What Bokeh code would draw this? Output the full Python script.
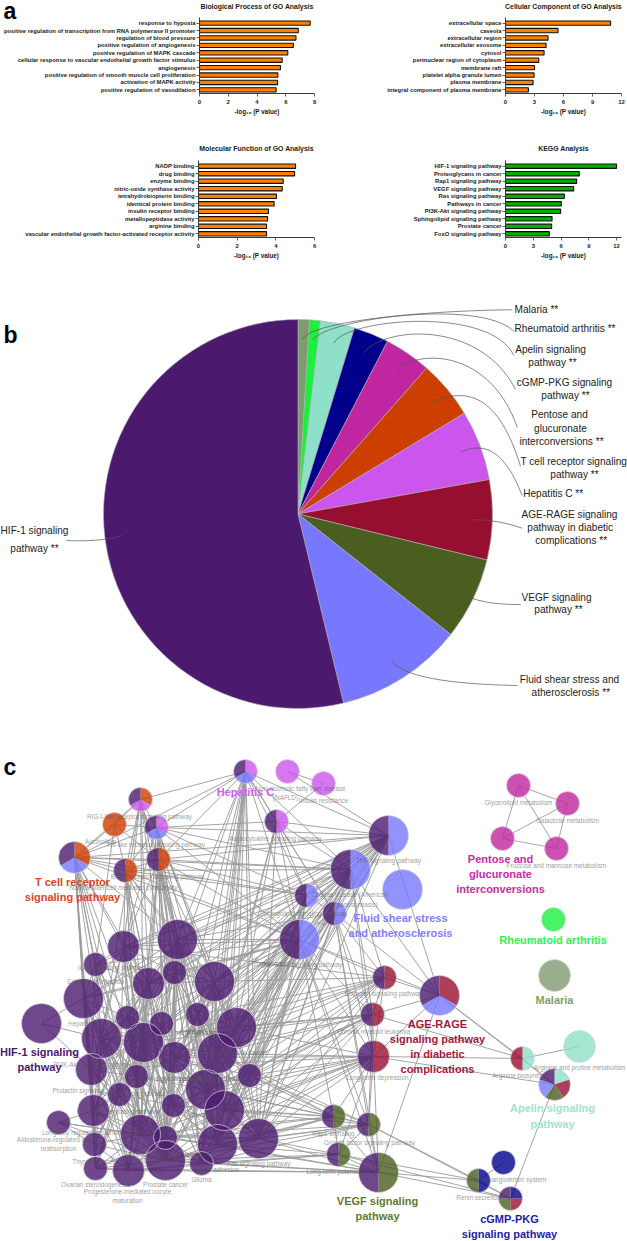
from math import pi
from bokeh.plotting import figure
from bokeh.layouts import column, row
from bokeh.models import Range1d, FixedTicker, Label, ColumnDataSource
from bokeh.core.properties import value
from bokeh.embed import file_html
from bokeh.resources import INLINE

FONT = "Liberation Sans"

# ---------- panel a data ----------
bp_terms = ["response to hypoxia", "positive regulation of transcription from RNA polymerase II promoter",
            "regulation of blood pressure", "positive regulation of angiogenesis",
            "positive regulation of MAPK cascade", "cellular response to vascular endothelial growth factor stimulus",
            "angiogenesis", "positive regulation of smooth muscle cell proliferation",
            "activation of MAPK activity", "positive regulation of vasodilation"]
bp_vals = [7.70, 6.87, 6.71, 6.53, 6.14, 5.75, 5.63, 5.45, 5.43, 5.33]
cc_terms = ["extracellular space", "caveola", "extracellular region", "extracellular exosome", "cytosol",
            "perinuclear region of cytoplasm", "membrane raft", "platelet alpha granule lumen",
            "plasma membrane", "integral component of plasma membrane"]
cc_vals = [10.87, 5.43, 4.40, 4.20, 3.99, 3.44, 3.00, 2.96, 2.85, 2.37]
mf_terms = ["NADP binding", "drug binding", "enzyme binding", "nitric-oxide synthase activity",
            "tetrahydrobiopterin binding", "identical protein binding", "insulin receptor binding",
            "metallopeptidase activity", "arginine binding",
            "vascular endothelial growth factor-activated receptor activity"]
mf_vals = [5.02, 4.97, 4.38, 4.33, 4.03, 3.91, 3.62, 3.57, 3.52, 3.52]
kegg_terms = ["HIF-1 signaling pathway", "Proteoglycans in cancer", "Rap1 signaling pathway",
              "VEGF signaling pathway", "Ras signaling pathway", "Pathways in cancer",
              "PI3K-Akt signaling pathway", "Sphingolipid signaling pathway", "Prostate cancer",
              "FoxO signaling pathway"]
kegg_vals = [12.0, 7.98, 7.69, 7.37, 6.36, 6.04, 5.96, 5.03, 4.99, 4.74]

# ---------- panel b data ----------
pie_shares = [0.94, 0.90, 2.85, 2.92, 3.89, 4.83, 5.83, 6.64, 6.83, 10.61, 53.76]
C = dict(hif="#4B1A6E", fluid="#7878FF", vegf="#4A5E20", age="#970F30", hepc="#CC55EE", tcell="#CC3F00",
         pent="#C0269F", cgmp="#00008B", apel="#8FE0C8", rheu="#1CF03F", mal="#7F9A6F")
pie_keys = ["mal", "rheu", "apel", "cgmp", "pent", "tcell", "hepc", "age", "vegf", "fluid", "hif"]
pie_lines = [("Malaria **", 514, 309, "left"), ("Rheumatoid arthritis **", 514, 328.3, "left"),
             ("Apelin signaling", 550, 349, "center"), ("pathway **", 552, 361.7, "center"),
             ("cGMP-PKG signaling", 564, 382.3, "center"), ("pathway **", 565, 395, "center"),
             ("Pentose and", 559, 414.3, "center"), ("glucuronate", 560, 428, "center"),
             ("interconversions **", 561, 441, "center"),
             ("T cell receptor signaling", 573.3, 461.3, "center"), ("pathway **", 574, 474, "center"),
             ("Hepatitis C **", 522.7, 493.3, "left"),
             ("AGE-RAGE signaling", 569, 514, "center"), ("pathway in diabetic", 569.7, 526.7, "center"),
             ("complications **", 570.7, 540, "center"),
             ("VEGF signaling", 556, 596.7, "center"), ("pathway **", 558, 609.3, "center"),
             ("Fluid shear stress and", 569, 678.7, "center"), ("atherosclerosis **", 570.3, 692, "center"),
             ("HIF-1 signaling", 34, 530, "center"), ("pathway **", 34, 548, "center")]
# leader curves: start, control 1, control 2, end
leaders = [(302, 339, 310, 320, 430, 310, 511.7, 309.3), (312.3, 339.3, 327, 318, 480, 298, 513.3, 330.7),
           (333.3, 342.7, 345, 318, 490, 305, 513.3, 355), (363.3, 352.3, 385, 325, 480, 320, 515, 389),
           (396, 369.3, 420, 348, 490, 350, 516.7, 426.7), (430.7, 401.7, 460, 390, 495, 385, 520, 465.7),
           (460, 451.7, 485, 440, 505, 452, 521.7, 495), (471, 519.3, 490, 519, 505, 522, 521.7, 527.7),
           (454.3, 590, 475, 602, 495, 604, 520, 604), (391.7, 660.7, 405, 680, 470, 684, 516.7, 685),
           (122, 535, 105, 540, 85, 541, 66, 540)]

# ---------- panel c data ----------
P = "hif"
node_x = [245, 287, 323, 140, 114, 156, 276, 74, 125, 158, 306, 299, 177, 123, 95, 174, 148, 214, 83, 41, 127, 197,
          236, 101, 161, 143, 174, 217, 91, 136, 249, 119, 205, 173, 224, 93, 58, 140, 165, 217, 258, 94, 165, 201,
          95, 128, 388, 350, 402, 334, 384, 439, 518, 567, 502, 556, 553, 554, 372, 373, 522, 579, 554, 333, 368,
          338, 378, 503, 478, 510]
node_y = [771, 771, 783, 799, 824, 827, 821, 857, 870, 859, 895, 939, 939, 946, 964, 972, 983, 981, 998, 1023, 1017,
          1014, 1027, 1038, 1023, 1042, 1057, 1053, 1069, 1076, 1075, 1094, 1089, 1105, 1110, 1110, 1122, 1134, 1137,
          1144, 1138, 1144, 1160, 1163, 1168, 1170, 835, 869, 889, 913, 977, 995, 785, 803, 838, 848, 919, 975, 1014,
          1056, 1058, 1046, 1084, 1116, 1124, 1154, 1172, 1162, 1180, 1198]
node_r = [12, 12, 12, 12, 12, 12, 12, 16, 12, 12, 12, 20, 20, 16, 12, 12, 16, 20, 20, 20, 12, 12, 20, 20, 12, 20, 16,
          20, 16, 12, 12, 12, 20, 12, 20, 16, 12, 20, 12, 20, 20, 12, 20, 12, 12, 16, 20, 20, 20, 12, 12, 20, 12, 12,
          12, 12, 12, 16, 12, 16, 12, 16, 16, 12, 12, 12, 20, 12, 12, 12]
node_comp = [["hepc", "fluid", P], ["hepc"], ["hepc"], ["tcell", "hepc", P], ["tcell"], ["hepc", "fluid", P],
             ["hepc", P], ["tcell", "fluid", P], ["tcell", P], ["tcell", P], ["fluid", P], ["fluid", P]] + \
            [[P]] * 34 + \
            [["fluid", P], ["fluid", P], ["fluid"], ["fluid", P], ["age", P], ["age", "fluid", P],
             ["pent"], ["pent"], ["pent"], ["pent"], ["rheu"], ["mal"], ["age", P], ["age", P], ["apel", "age"],
             ["apel"], ["apel", "age", "vegf", "fluid", P], ["vegf", P], ["vegf", P], ["vegf", P], ["vegf", P],
             ["cgmp"], ["cgmp", "vegf"], ["cgmp", "age", "vegf", P]]
adjacency = {
    0: [3, 5, 6, 7, 9, 10, 11, 17, 21, 22, 27, 30, 32, 34, 40, 39, 46, 47, 12, 15, 26, 43, 49],
    1: [2, 46], 2: [6],
    3: [5, 4, 7, 8, 9, 12, 13, 16, 25, 26, 15, 23], 4: [7, 8, 9, 5, 14],
    5: [6, 7, 8, 9, 12, 13, 15, 17, 27, 32, 46, 47, 11, 10, 22, 30, 25],
    6: [10, 11, 46, 47, 49, 27, 32, 40, 22],
    7: [8, 9, 12, 13, 14, 16, 18, 23, 25, 28, 31, 35, 44, 41, 11, 46, 47, 10, 37, 42],
    8: [9, 12, 13, 15, 16, 17, 25, 29, 33, 37, 42, 10, 11, 47],
    9: [12, 13, 15, 16, 17, 26, 29, 33, 37, 38, 42, 43, 11, 47, 10, 46, 21, 27, 32],
    10: [11, 46, 47, 49, 17, 21, 22, 27, 30, 12, 32, 34, 39, 40],
    11: [46, 47, 49, 12, 13, 15, 16, 17, 21, 22, 25, 26, 27, 29, 30, 32, 33, 34, 37, 38, 39, 40, 42, 43, 50, 51, 58,
         59, 63, 64, 66, 14, 18, 23, 28],
    12: [13, 15, 16, 17, 18, 20, 21, 22, 23, 25, 26, 27, 28, 29, 30, 32, 33, 34, 35, 37, 38, 39, 40, 41, 42, 43],
    13: [14, 15, 16, 18, 20, 23, 25, 26, 28, 29, 31, 33, 37, 42], 14: [16, 18, 23, 25, 28, 37, 42],
    15: [16, 17, 21, 24, 25, 26, 27, 29, 32, 33, 34, 37, 38, 39, 42, 43],
    16: [17, 18, 20, 23, 25, 26, 28, 29, 31, 33, 35, 37, 38, 42, 44, 45],
    17: [21, 22, 24, 26, 27, 30, 32, 34, 39, 40, 33, 37, 38, 42, 43],
    18: [19, 20, 23, 25, 28, 29, 31, 35, 37, 41, 42, 45], 19: [23, 28],
    20: [23, 24, 25, 26, 28, 29, 31, 33, 37, 38], 21: [22, 24, 26, 27, 30, 32, 34, 39, 40, 29, 33, 37],
    22: [27, 30, 32, 34, 39, 40, 26, 33], 23: [25, 26, 28, 29, 31, 33, 35, 37, 38, 41, 42, 44, 45],
    24: [25, 26, 27, 29, 32, 33, 37, 38, 42],
    25: [26, 27, 28, 29, 31, 32, 33, 34, 35, 37, 38, 39, 41, 42, 43, 44, 45],
    26: [27, 29, 30, 32, 33, 34, 37, 38, 39, 40, 42, 43], 27: [30, 32, 34, 39, 40, 33, 38, 42, 43],
    28: [29, 31, 35, 37, 38, 41, 42, 44, 45], 29: [31, 32, 33, 35, 37, 38, 39, 42, 45], 30: [32, 34, 39, 40],
    31: [33, 35, 37, 38, 41, 42, 45, 44], 32: [33, 34, 37, 38, 39, 40, 42, 43], 33: [34, 37, 38, 39, 42, 43, 40],
    34: [38, 39, 40, 42, 43], 35: [36, 37, 38, 41, 42, 44, 45], 36: [37, 38, 42, 41],
    37: [38, 39, 41, 42, 43, 44, 45, 40], 38: [39, 42, 43, 44, 45, 40], 39: [40, 42, 43], 40: [42, 43],
    41: [42, 44, 45], 42: [43, 44, 45], 43: [45], 44: [45],
    46: [47, 49, 51, 16, 12, 13, 17, 15, 21, 22, 14, 18, 23, 25, 26, 27, 30, 32, 34, 39, 40],
    47: [49, 51, 12, 13, 15, 17, 21, 22, 25, 26, 27, 30, 32, 34, 39, 40, 42, 59, 58, 50],
    49: [50, 51, 58, 59, 64, 66, 17, 22, 27, 30, 32, 34, 39, 40, 12, 26],
    50: [51, 58, 59, 17, 21, 22, 27, 30, 32, 34, 39, 40, 13, 25, 26], 51: [58, 59, 60, 62, 66],
    52: [53, 54, 55], 53: [54, 55], 54: [55],
    58: [59, 60, 64, 22, 27, 30, 32, 34, 39, 40, 25, 26, 23, 33, 37],
    59: [60, 62, 64, 66, 63, 65, 30, 34, 39, 40, 27, 32, 33, 37, 38, 42, 26, 22, 28],
    60: [61, 62], 62: [69], 63: [64, 65, 66, 30, 34, 39, 40, 32, 27, 37, 38, 42, 33, 26],
    64: [65, 66, 68, 69, 30, 34, 39, 40, 43, 42, 27, 32, 38], 65: [66, 68, 69, 40, 39, 43, 42, 45],
    66: [68, 69, 40, 39, 43, 42, 45, 44, 38], 67: [68], 68: [69],
}
gray_labels = [("RIG-I-like receptor signaling pathway", 139, 816), ("Alcoholism", 100, 841),
               ("Toll-like receptor signaling pathway", 155, 844), ("Non-alcoholic fatty liver disease", 300, 788),
               ("(NAFLD)", 285, 797), ("Insulin resistance", 323, 800), ("Adipocytokine signaling pathway", 275, 838),
               ("B cell receptor signaling pathway", 157, 876), ("Natural killer cell mediated cytotoxicity", 123, 887),
               ("Chagas disease (American", 349, 894), ("trypanosomiasis)", 353, 904), ("TNF signaling pathway", 388, 860),
               ("Glycerolipid metabolism", 518, 802), ("Galactose metabolism", 567, 820),
               ("Fructose and mannose metabolism", 556, 865), ("Hepatitis B", 83, 1023), ("Autophagy", 127, 1033),
               ("Proteoglycans in cancer", 233, 1052), ("PI3K-Akt signaling pathway", 92, 1064),
               ("Prolactin signaling", 78, 1090), ("FoxO signaling pathway", 133, 1093),
               ("Rap1 signaling pathway", 208, 1078), ("Ras signaling pathway", 258, 1163), ("Focal adhesion", 217, 1169),
               ("Glioma", 201, 1179), ("Long-term potentiation", 338, 1171), ("Prostate cancer", 165, 1184),
               ("Ovarian steroidogenesis", 95, 1184), ("Progesterone-mediated oocyte", 127, 1191), ("maturation", 127, 1200),
               ("Thyroid cancer", 93, 1161), ("Aldosterone-regulated sodium", 59, 1139), ("reabsorption", 58, 1148),
               ("Longevity regulating pathway", 118, 1111), ("Longevity regulating pathway - mammal", 98, 1132),
               ("Pathways in cancer", 211, 1114), ("Estrogen signaling pathway", 167, 1154), ("ErbB signaling pathway", 144, 1159),
               ("mTOR signaling pathway", 170, 1078), ("Melanoma", 200, 1031), ("IL-17 signaling pathway", 111, 967),
               ("Salmonella infection", 95, 981), ("JAK-STAT signaling pathway", 301, 964),
               ("Sphingolipid signaling pathway", 303, 913), ("Estrogen signaling pathway", 383, 993),
               ("Chronic myeloid leukemia", 373, 1031), ("Long-term depression", 377, 1077),
               ("Rap1 signaling", 333, 1133), ("Growth factor signaling pathway", 369, 1142),
               ("Renin-angiotensin system", 509, 1179), ("Renin secretion", 478, 1197), ("Arginine biosynthesis", 522, 1075),
               ("Arginine and proline metabolism", 579, 1067), ("Shigellosis", 267, 963), ("Tight junction", 198, 1032)]
big_labels = [("T cell receptor", 72, 881, "#D9481C"), ("signaling pathway", 72, 896, "#D9481C"),
              ("Hepatitis C", 245, 791, "#D060F0"), ("Fluid shear stress", 400, 917, "#7E7EFF"),
              ("and atherosclerosis", 400, 932, "#7E7EFF"), ("Pentose and", 500, 858, "#C82CA8"),
              ("glucuronate", 500, 873, "#C82CA8"), ("interconversions", 500, 888, "#C82CA8"),
              ("Rheumatoid arthritis", 552.5, 939, "#2EF552"), ("Malaria", 554, 999, "#7F9F6A"),
              ("HIF-1 signaling", 39, 1051, "#4B1A6E"), ("pathway", 39, 1066, "#4B1A6E"),
              ("AGE-RAGE", 437, 1023, "#A5183C"), ("signaling pathway", 437, 1038, "#A5183C"),
              ("in diabetic", 437, 1053, "#A5183C"), ("complications", 437, 1068, "#A5183C"),
              ("Apelin signaling", 552, 1107, "#9FE3CF"), ("pathway", 552, 1123, "#9FE3CF"),
              ("VEGF signaling", 377, 1200, "#5F7A2F"), ("pathway", 377, 1215, "#5F7A2F"),
              ("cGMP-PKG", 509, 1218, "#1E1E9E"), ("signaling pathway", 509, 1233, "#1E1E9E")]

PAGE_H = 1241


def up(py):
    return PAGE_H - py


def bar_panel(title, terms, vals, color, xmax, ticks, left, w, top, h, title_gap):
    n = len(terms)
    pos = list(range(n))
    fh, fw = 77, 116
    p = figure(width=w, height=h, output_backend="svg", toolbar_location=None, tools="", title=title,
               x_range=Range1d(0, xmax), y_range=Range1d(n - 1 + 0.49, -0.76),
               min_border_left=left, min_border_right=w - left - fw, min_border_top=top,
               min_border_bottom=h - top - fh, border_fill_alpha=0)
    p.title.align = "center"
    p.title.vertical_align = "top"
    p.title.text_font = FONT
    p.title.text_font_style = "bold"
    p.title.text_font_size = "6.9px"
    p.title.text_color = "#1a1a1a"
    p.title.standoff = title_gap
    p.grid.visible = False
    p.outline_line_color = None
    p.hbar(y=pos, right=vals, left=0, height=0.58, fill_color=color, line_color="#111111", line_width=1.1)
    p.yaxis.ticker = FixedTicker(ticks=pos)
    p.yaxis.major_label_overrides = {i: t for i, t in enumerate(terms)}
    p.xaxis.ticker = FixedTicker(ticks=ticks)
    for ax in (p.xaxis[0], p.yaxis[0]):
        ax.axis_line_color = "#3a3a3a"
        ax.axis_line_width = 1
        ax.major_tick_line_color = "#3a3a3a"
        ax.major_tick_line_width = 0.8
        ax.major_tick_out = 3
        ax.major_tick_in = 0
        ax.minor_tick_line_color = None
        ax.major_label_text_font = FONT
        ax.major_label_text_font_style = "bold"
        ax.major_label_text_font_size = "5.85px"
        ax.major_label_text_color = "#1a1a1a"
        ax.major_label_standoff = 1
    p.xaxis.major_label_standoff = 3
    p.xaxis.axis_label = "-log\u2081\u2080 (P value)"
    p.xaxis.axis_label_text_font = FONT
    p.xaxis.axis_label_text_font_style = "bold"
    p.xaxis.axis_label_text_font_size = "6.3px"
    p.xaxis.axis_label_text_color = "#1a1a1a"
    p.xaxis.axis_label_standoff = 1
    return p


fig_bp = bar_panel("Biological Process of GO Analysis", bp_terms, bp_vals, "#FF8000", 8, [0, 2, 4, 6, 8], 198, 320, 20, 144, 12)
fig_cc = bar_panel("Cellular Component of GO Analysis", cc_terms, cc_vals, "#FF8000", 12, [0, 3, 6, 9, 12], 185, 307, 20, 144, 12)
fig_mf = bar_panel("Molecular Function of GO Analysis", mf_terms, mf_vals, "#FF8000", 6, [0, 2, 4, 6], 198, 320, 24, 154, 13)
fig_kg = bar_panel("KEGG Analysis", kegg_terms, kegg_vals, "#00B000", 12.54, [0, 3, 6, 9, 12], 185, 307, 24, 154, 13)

# panel letter a sits in a small overlay figure at the page's top-left corner
fig_a = figure(width=30, height=34, output_backend="svg", toolbar_location=None, tools="",
               x_range=Range1d(0, 30), y_range=Range1d(0, 34), x_axis_type=None, y_axis_type=None, min_border=0,
               margin=(-148, 0, 114, 0), background_fill_alpha=0, border_fill_alpha=0)
fig_a.grid.visible = False
fig_a.outline_line_color = None
fig_a.text(x=[3], y=[16], text=["a"], text_font=value(FONT), text_font_style="bold", text_font_size="23px",
           text_baseline="alphabetic", text_color="black")

# ---------- pie ----------
fig_pie = figure(width=627, height=460, output_backend="svg", toolbar_location=None, tools="",
                 x_range=Range1d(0, 627), y_range=Range1d(up(750), up(290)), x_axis_type=None, y_axis_type=None,
                 min_border=0)
fig_pie.grid.visible = False
fig_pie.outline_line_color = None
total = sum(pie_shares)
cum, starts, ends = 0.0, [], []
for s in pie_shares:
    starts.append(pi / 2 - 2 * pi * cum / total)
    cum += s
    ends.append(pi / 2 - 2 * pi * cum / total)
fig_pie.wedge(x=297.5, y=up(513.5), radius=194.5, start_angle=starts, end_angle=ends, direction="clock",
              fill_color=[C[k] for k in pie_keys], line_color="#b0b0b0", line_width=0.6)
fig_pie.bezier(x0=[l[0] for l in leaders], y0=[up(l[1]) for l in leaders],
               cx0=[l[2] for l in leaders], cy0=[up(l[3]) for l in leaders],
               cx1=[l[4] for l in leaders], cy1=[up(l[5]) for l in leaders],
               x1=[l[6] for l in leaders], y1=[up(l[7]) for l in leaders], line_color="#555555", line_width=0.7)
for align in ("left", "center"):
    sel = [l for l in pie_lines if l[3] == align]
    fig_pie.text(x=[l[1] for l in sel], y=[up(l[2]) for l in sel], text=[l[0] for l in sel],
                 text_font=value(FONT), text_font_size="10.1px", text_align=align, text_baseline="middle",
                 text_color="#222222")
fig_pie.add_layout(Label(x=3, y=up(347) - up(750), x_units="screen", y_units="screen", text="b", text_font=FONT,
                         text_font_style="bold", text_font_size="23px", text_color="black"))

# ---------- network ----------
fig_net = figure(width=627, height=491, output_backend="svg", toolbar_location=None, tools="",
                 x_range=Range1d(0, 627), y_range=Range1d(up(PAGE_H), up(750)), x_axis_type=None, y_axis_type=None,
                 min_border=0)
fig_net.grid.visible = False
fig_net.outline_line_color = None
ex0, ey0, ex1, ey1 = [], [], [], []
for a, bs in adjacency.items():
    for b in bs:
        ex0.append(node_x[a]); ey0.append(up(node_y[a]))
        ex1.append(node_x[b]); ey1.append(up(node_y[b]))
fig_net.segment(x0=ex0, y0=ey0, x1=ex1, y1=ey1, line_color="#9a9a9a", line_width=1.0, line_alpha=0.9)
wx, wy, wr, ws, we, wc = [], [], [], [], [], []
sx, sy, sr, sc = [], [], [], []
for i, comp in enumerate(node_comp):
    k = len(comp)
    if k == 1:
        sx.append(node_x[i]); sy.append(up(node_y[i])); sr.append(node_r[i]); sc.append(C[comp[0]])
        continue
    for j, c in enumerate(comp):
        wx.append(node_x[i]); wy.append(up(node_y[i])); wr.append(node_r[i])
        ws.append(pi / 2 - 2 * pi * j / k); we.append(pi / 2 - 2 * pi * (j + 1) / k)
        wc.append(C[c])
fig_net.circle(x=sx, y=sy, radius=sr, fill_color=sc, fill_alpha=0.8, line_color=None)
src = ColumnDataSource(dict(x=wx, y=wy, r=wr, s=ws, e=we, c=wc))
fig_net.wedge(x="x", y="y", radius="r", start_angle="s", end_angle="e", direction="clock", fill_color="c",
              fill_alpha=0.8, line_color=None, source=src)
fig_net.circle(x=node_x, y=[up(v) for v in node_y], radius=node_r, fill_color=None, line_color="#d8d8d8", line_width=0.7)
fig_net.text(x=[l[1] for l in gray_labels], y=[up(l[2]) for l in gray_labels], text=[l[0] for l in gray_labels],
             text_font=value(FONT), text_font_size="6.4px", text_align="center", text_baseline="middle",
             text_color="#555555", text_alpha=0.6)
fig_net.text(x=[l[1] for l in big_labels], y=[up(l[2]) for l in big_labels], text=[l[0] for l in big_labels],
             text_font=value(FONT), text_font_style="bold", text_font_size="11px", text_align="center",
             text_baseline="middle", text_color=[l[3] for l in big_labels])
fig_net.add_layout(Label(x=3, y=up(779) - up(PAGE_H), x_units="screen", y_units="screen", text="c", text_font=FONT,
                         text_font_style="bold", text_font_size="23px", text_color="black"))

page = column(row(fig_bp, fig_cc, spacing=0, margin=(-4, 0, 0, 0)), fig_a,
              row(fig_mf, fig_kg, spacing=0, margin=(-4, 0, 0, 0)), fig_pie, fig_net, spacing=0)
open("out.html", "w").write(file_html(page, INLINE))
